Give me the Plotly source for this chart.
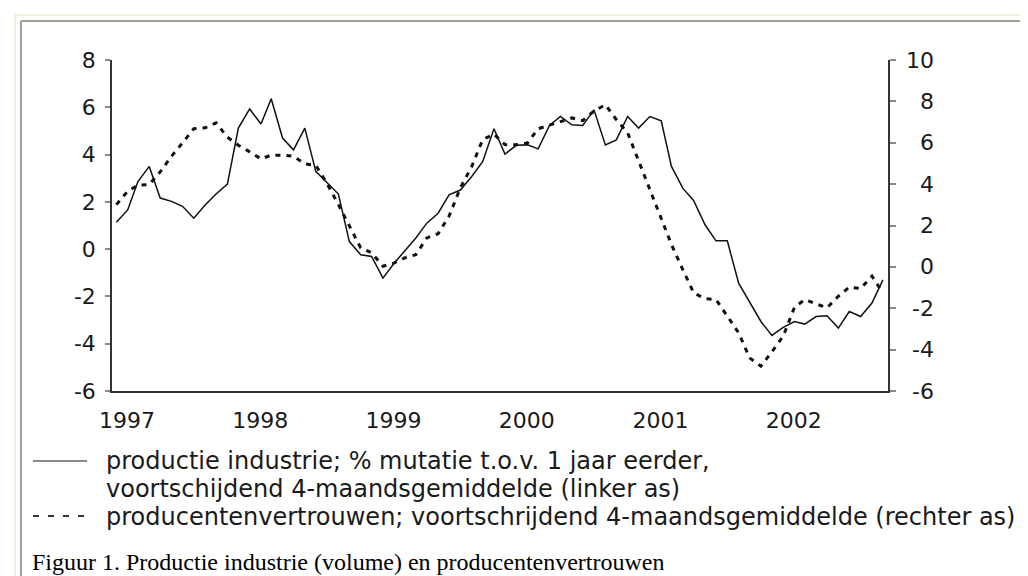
import plotly.graph_objects as go
import pandas as pd

# ---------------- data ----------------
months = pd.date_range("1997-01-01", periods=70, freq="MS")

# productie industrie; % mutatie t.o.v. 1 jaar eerder (linker as)
productie = [
    1.14, 1.66, 2.86, 3.50, 2.16, 2.02, 1.81, 1.31, 1.87, 2.33, 2.75, 5.12,
    5.93, 5.29, 6.36, 4.70, 4.20, 5.12, 3.29, 2.79, 2.33, 0.32, -0.24, -0.31,
    -1.23, -0.59, -0.10, 0.47, 1.10, 1.52, 2.30, 2.50, 3.07, 3.70, 5.09, 4.02,
    4.39, 4.41, 4.24, 5.23, 5.61, 5.26, 5.23, 5.89, 4.41, 4.62, 5.61, 5.12,
    5.61, 5.43, 3.50, 2.58, 2.05, 1.03, 0.35, 0.35, -1.44, -2.21, -3.06, -3.65,
    -3.31, -3.06, -3.17, -2.85, -2.82, -3.34, -2.64, -2.85, -2.28, -1.30,
]

# producentenvertrouwen (rechter as)
vertrouwen = [
    3.01, 3.66, 3.95, 3.98, 4.59, 5.35, 5.99, 6.68, 6.72, 6.96, 6.27, 5.88,
    5.56, 5.22, 5.40, 5.40, 5.35, 4.98, 4.91, 4.02, 3.01, 1.97, 0.92, 0.68,
    0.03, 0.19, 0.43, 0.59, 1.40, 1.60, 2.45, 3.82, 4.85, 6.15, 6.42, 5.91,
    5.90, 5.99, 6.68, 6.85, 7.01, 7.20, 7.07, 7.53, 7.84, 7.12, 6.48, 5.11,
    3.74, 2.37, 1.08, -0.13, -1.26, -1.53, -1.58, -2.38, -3.19, -4.40, -4.80, -4.11,
    -3.35, -1.95, -1.58, -1.79, -1.98, -1.42, -0.98, -1.05, -0.45, -1.26,
]

year_labels = ["1997", "1998", "1999", "2000", "2001", "2002"]
year_label_dates = ["1997-01-30", "1998-01-30", "1999-01-30",
                    "2000-01-30", "2001-01-30", "2002-01-30"]
left_ticks = [-6, -4, -2, 0, 2, 4, 6, 8]
right_ticks = [-6, -4, -2, 0, 2, 4, 6, 8, 10]

legend_solid = ["productie industrie; % mutatie t.o.v. 1 jaar eerder,",
                "voortschijdend 4-maandsgemiddelde (linker as)"]
legend_dotted = "producentenvertrouwen; voortschrijdend 4-maandsgemiddelde (rechter as)"
caption = "Figuur 1. Productie industrie (volume) en producentenvertrouwen"

# ---------------- layout helpers (pixel -> paper) ----------------
W, H = 1028, 576
PL, PR, PT, PB = 104, 880, 52, 383


def fx(x):
    return (x - PL) / (PR - PL)


def fy(y):
    return (PB - y) / (PB - PT)


SANS = "DejaVu Sans"
SERIF = "Liberation Serif"
TXT = "#1a1a1a"
AXC = "#333333"
TICKC = "#8a8a8a"

fig = go.Figure()
fig.add_trace(go.Scatter(
    x=months, y=productie, mode="lines", yaxis="y",
    line=dict(color="#111111", width=1.5), showlegend=False,
    name="productie industrie"))
fig.add_trace(go.Scatter(
    x=months, y=vertrouwen, mode="lines", yaxis="y2",
    line=dict(color="#111111", width=3, dash="5px,6px"), showlegend=False,
    name="producentenvertrouwen"))

tickfont = dict(family=SANS, size=22, color=TXT)

fig.update_layout(
    width=W, height=H,
    margin=dict(l=PL, r=W - PR, t=PT, b=H - PB, pad=0),
    paper_bgcolor="white", plot_bgcolor="white",
    showlegend=False,
    xaxis=dict(
        type="date", range=["1996-12-20", "2002-10-15"],
        tickvals=year_label_dates, ticktext=year_labels,
        ticks="", showline=True, linecolor=AXC, linewidth=1.5,
        showgrid=False, zeroline=False, tickfont=tickfont,
        ticklabelstandoff=9,
    ),
    yaxis=dict(
        range=[-6, 8], tickvals=left_ticks, ticktext=[str(v) for v in left_ticks],
        ticks="outside", ticklen=5, tickwidth=1.5, tickcolor=TICKC,
        showline=True, linecolor=AXC, linewidth=1.5,
        showgrid=False, zeroline=False, tickfont=tickfont,
        ticklabelstandoff=5,
    ),
    yaxis2=dict(
        range=[-6, 10], overlaying="y", side="right", tickvals=right_ticks,
        ticks="outside", ticklen=6, tickwidth=1.5, tickcolor=TICKC,
        showticklabels=False,
        showline=True, linecolor=AXC, linewidth=1.5,
        showgrid=False, zeroline=False,
    ),
    yaxis3=dict(
        range=[-6, 8], overlaying="y", side="left", tickvals=left_ticks,
        ticks="inside", ticklen=5, tickwidth=1.5, tickcolor=TICKC,
        showticklabels=False, showline=False, showgrid=False, zeroline=False,
    ),
    yaxis4=dict(
        range=[-6, 10], overlaying="y", side="right", tickvals=right_ticks,
        ticks="inside", ticklen=6, tickwidth=1.5, tickcolor=TICKC,
        showticklabels=False, showline=False, showgrid=False, zeroline=False,
    ),
)

annotations = []
# right axis labels, right aligned like the reference
for v in right_ticks:
    annotations.append(dict(
        x=fx(928), xref="paper", xanchor="right",
        y=v, yref="y2", yanchor="middle",
        text=str(v), showarrow=False, font=tickfont))

legend_font = dict(family=SANS, size=24, color=TXT)
annotations.append(dict(x=fx(96), y=fy(453), xref="paper", yref="paper",
                        xanchor="left", yanchor="middle", showarrow=False,
                        text=legend_solid[0], font=legend_font))
annotations.append(dict(x=fx(96), y=fy(481), xref="paper", yref="paper",
                        xanchor="left", yanchor="middle", showarrow=False,
                        text=legend_solid[1], font=legend_font))
annotations.append(dict(x=fx(96), y=fy(509), xref="paper", yref="paper",
                        xanchor="left", yanchor="middle", showarrow=False,
                        text=legend_dotted, font=legend_font))
annotations.append(dict(x=fx(22), y=fy(554), xref="paper", yref="paper",
                        xanchor="left", yanchor="middle", showarrow=False,
                        text=caption, font=dict(family=SERIF, size=24, color="#000000")))
fig.update_layout(annotations=annotations)

shapes = [
    # outer frame (beige) and inner frame (grey)
    dict(type="line", xref="paper", yref="paper", x0=fx(7), x1=fx(7), y0=fy(7), y1=fy(H),
         line=dict(color="#f1efdf", width=2)),
    dict(type="line", xref="paper", yref="paper", x0=fx(7), x1=fx(W), y0=fy(7), y1=fy(7),
         line=dict(color="#f1efdf", width=2)),
    dict(type="line", xref="paper", yref="paper", x0=fx(13), x1=fx(13), y0=fy(13), y1=fy(H),
         line=dict(color="#a19e92", width=2)),
    dict(type="line", xref="paper", yref="paper", x0=fx(13), x1=fx(W), y0=fy(13), y1=fy(13),
         line=dict(color="#a19e92", width=2)),
    # legend samples
    dict(type="line", xref="paper", yref="paper", x0=fx(25), x1=fx(79), y0=fy(453), y1=fy(453),
         line=dict(color="#8a8a8a", width=2)),
    dict(type="line", xref="paper", yref="paper", x0=fx(25), x1=fx(79), y0=fy(508), y1=fy(508),
         line=dict(color="#333333", width=2, dash="6px,9px")),
]
fig.update_layout(shapes=shapes)

fig.write_html("out.html")
